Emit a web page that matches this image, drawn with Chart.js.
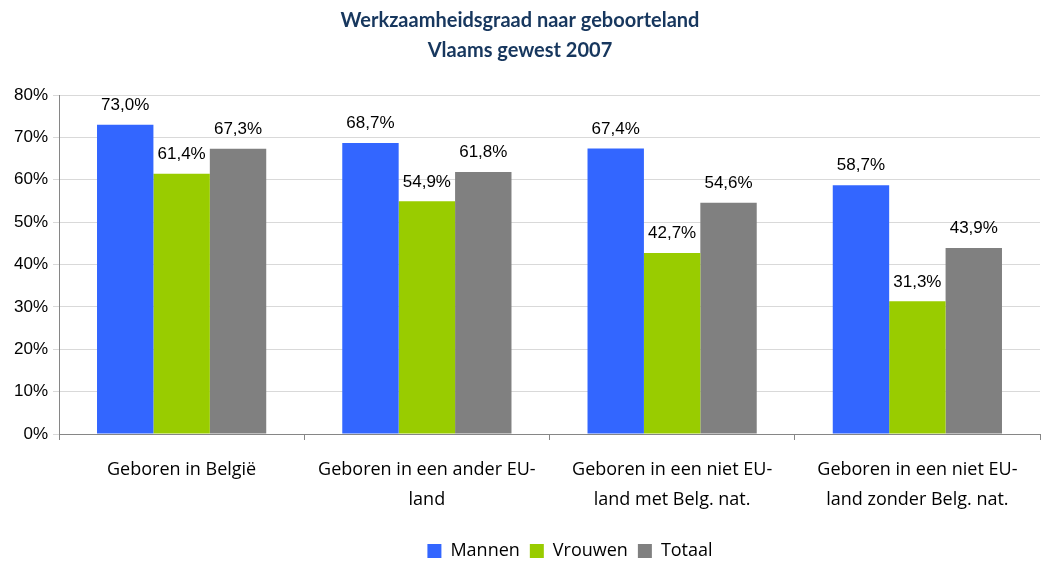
<!DOCTYPE html>
<html>
<head>
<meta charset="utf-8">
<script src="https://cdn.jsdelivr.net/npm/chart.js@4/dist/chart.umd.min.js"></script>
<style>
  html, body { margin: 0; padding: 0; background: #fff; }
  #wrap { width: 1042px; height: 563px; }
</style>
</head>
<body>
<div id="wrap"><canvas id="chart"></canvas></div>
<script>
const categories = [
    ['Geboren in België'],
    ['Geboren in een ander EU-', 'land'],
    ['Geboren in een niet EU-', 'land met Belg. nat.'],
    ['Geboren in een niet EU-', 'land zonder Belg. nat.']
];
const mannen = [73.0, 68.7, 67.4, 58.7];
const vrouwen = [61.4, 54.9, 42.7, 31.3];
const totaal = [67.3, 61.8, 54.6, 43.9];
const yTicks = [0, 10, 20, 30, 40, 50, 60, 70, 80];

// draw the value above each bar
const barLabels = {
    id: 'barLabels',
    afterDatasetsDraw(chart) {
        const ctx = chart.ctx;
        ctx.save();
        ctx.font = '17px "Liberation Sans", Arial, sans-serif';
        ctx.fillStyle = '#000';
        ctx.textAlign = 'center';
        ctx.textBaseline = 'bottom';
        chart.data.datasets.forEach((ds, i) => {
            chart.getDatasetMeta(i).data.forEach((bar, j) => {
                ctx.fillText(ds.data[j].toFixed(1).replace('.', ',') + '%', bar.x, bar.y - 11);
            });
        });
        ctx.restore();
    }
};

// keep the legend box short and a bit to the right, like the original
const legendFit = {
    id: 'legendFit',
    beforeLayout(chart) {
        const lg = chart.legend;
        if (lg && !lg._patched) {
            const fit = lg.fit;
            lg.fit = function () { fit.call(this); this.height = 31; };
            lg._patched = true;
        }
    },
    afterLayout(chart) {
        const lg = chart.legend;
        if (lg) { lg.left += 50; lg.right += 50; }
    }
};

const ctx = document.getElementById('chart').getContext('2d');
new Chart(ctx, {
    type: 'bar',
    data: {
        labels: categories,
        datasets: [
            { label: 'Mannen', data: mannen, backgroundColor: '#3366FF' },
            { label: 'Vrouwen', data: vrouwen, backgroundColor: '#99CC00' },
            { label: 'Totaal', data: totaal, backgroundColor: '#808080' }
        ]
    },
    plugins: [barLabels, legendFit],
    options: {
        responsive: true,
        maintainAspectRatio: false,
        animation: false,
        datasets: { bar: { categoryPercentage: 0.69, barPercentage: 1.0 } },
        layout: { padding: { top: 0, right: 2, left: 0, bottom: 0 } },
        plugins: {
            title: {
                display: true,
                text: ['Werkzaamheidsgraad naar geboorteland', 'Vlaams gewest 2007'],
                color: '#17375E',
                font: { family: 'Lato, "Open Sans", sans-serif', size: 20, weight: 'bold', lineHeight: 1.5 },
                padding: { top: 6, bottom: 29 }
            },
            legend: {
                position: 'bottom',
                labels: {
                    boxWidth: 14,
                    boxHeight: 14,
                    padding: 10,
                    color: '#000',
                    font: { family: '"Open Sans", sans-serif', size: 18 }
                }
            },
            tooltip: { enabled: false }
        },
        scales: {
            x: {
                afterFit(scale) { scale.height = 98; },
                grid: { offset: true, drawOnChartArea: false, tickLength: 6, color: '#868686' },
                border: { color: '#868686' },
                ticks: {
                    color: '#000',
                    padding: 15,
                    maxRotation: 0,
                    font: { family: '"Open Sans", sans-serif', size: 18, lineHeight: 1.65 }
                }
            },
            y: {
                min: 0,
                max: 80,
                afterFit(scale) { scale.width = 59; },
                afterBuildTicks(scale) { scale.ticks = yTicks.map(v => ({ value: v })); },
                grid: { color: '#D9D9D9', tickLength: 6 },
                border: { color: '#868686' },
                ticks: {
                    color: '#000',
                    padding: 5,
                    font: { family: '"Liberation Sans", Arial, sans-serif', size: 17 },
                    callback: v => v + '%'
                }
            }
        }
    }
});
</script>
</body>
</html>
